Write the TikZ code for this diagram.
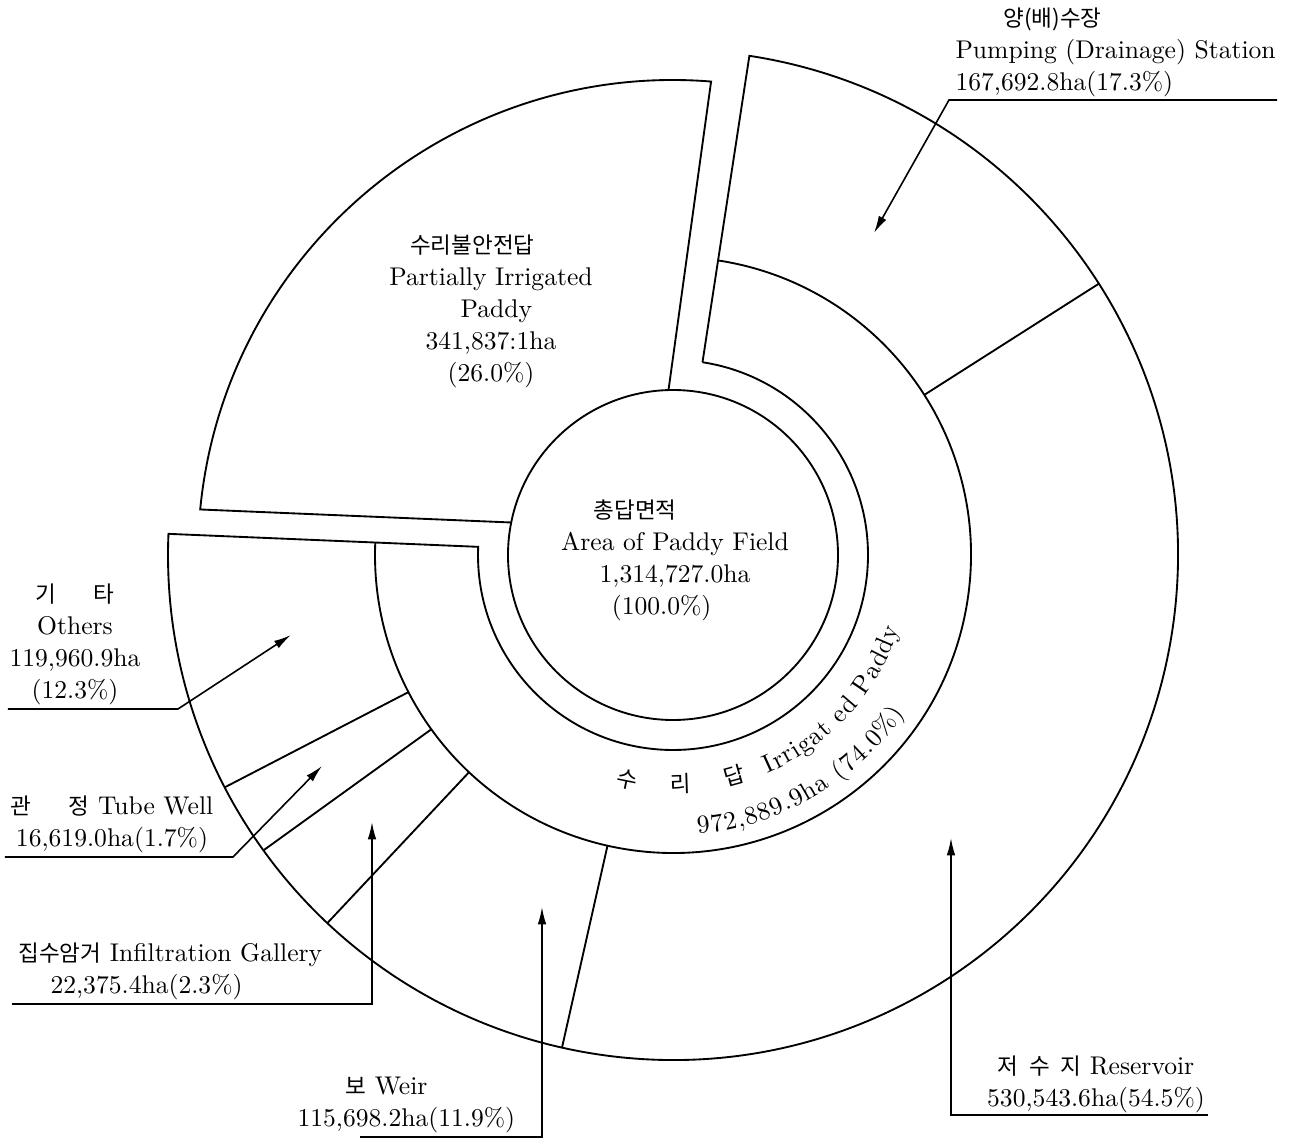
\documentclass[tikz,border=0pt]{standalone}
\usepackage{fontspec}
\newfontfamily\kr{Noto Sans CJK KR}[Scale=0.88]
\usetikzlibrary{arrows.meta,decorations.text}
\tikzset{
  >={Latex[length=6.5pt,width=3.2pt]},
  ring/.style={line width=0.7pt},
  leader/.style={draw, line width=0.6pt, ->},
  blocktext/.style={
    inner sep=0pt,
    align=center,
    font=\fontsize{9.6}{12}\selectfont
  },
  arctext/.style={decorate},
}

\begin{document}
\begin{tikzpicture}[x=0.375pt,y=0.375pt]
  \useasboundingbox (-673,-585) rectangle (620,555);
  % total area
  \draw[ring] (0,0) circle (165);
  % partially irrigated sector (cut off)
  \draw[ring] (-161.8,32.5) -- (174.5:475)
    arc[start angle=174.5, end angle=85.4, radius=475] -- (-4.5,164.9);
  % irrigated ring
  \draw[ring] (81.3:195) -- (81.3:505)
    arc[start angle=81.3, end angle=-182.4, radius=505] -- (-182.4:195)
    arc[start angle=-182.4, end angle=81.3, radius=195];
  \draw[ring] (81.3:298) arc[start angle=81.3, end angle=-182.4, radius=298];
  \foreach \a in {32.5,-102.7,-133.2,-144.2,-152.6}
    \draw[ring] (\a:298) -- (\a:505);

  % texts inside
  \node[blocktext] (tot) at (2,-5)
    {{\kr 총답면적}\hspace*{30pt}\\Area of Paddy Field\\1,314,727.0ha\hspace*{10pt}\\(100.0\%)\hspace*{10pt}};
  \node[blocktext] (part) at (-182,244)
    {{\kr 수리불안전답}\hspace*{14pt}\\Partially Irrigated\\\hspace*{4pt}Paddy\\341,837:1ha\hspace*{11pt}\\(26.0\%)};
  \foreach \ch/\a [count=\i, evaluate=\a as \r using \a+90] in {수/-101.6,리/-88,답/-74.6}
    \node[blocktext, rotate=\r] (irr\i) at (\a:229) {\kr \ch};
  \path[arctext, decoration={text along path, text align=fit to path,
      text={|\fontsize{9.6}{12}\selectfont|Irrigat ed Paddy}}]
    (-66.5:238) arc[start angle=-66.5, end angle=-18, radius=238];
  \path[arctext, decoration={text along path, text align=fit to path,
      text={|\fontsize{9.6}{12}\selectfont|972,889.9ha (74.0{\%})}}]
    (-84.9:280) arc[start angle=-84.9, end angle=-34.3, radius=280];

  % outside labels
  \node[blocktext, align=left, anchor=west] (pump) at (282,503)
    {\hspace*{18pt}{\kr 양(배)수장}\\Pumping (Drainage) Station\\167,692.8ha(17.3\%)};
  \node[blocktext] (resv) at (423,-529)
    {{\kr 저\hspace{4pt}수\hspace{4pt}지} Reservoir\\530,543.6ha(54.5\%)};
  \node[blocktext, align=left, anchor=west] (weir) at (-376,-550)
    {\hspace*{18pt}{\kr 보} Weir\\115,698.2ha(11.9\%)};
  \node[blocktext, align=left, anchor=west] (infl) at (-655,-416)
    {{\kr 집수암거} Infiltration Gallery\\\hspace*{12pt}22,375.4ha(2.3\%)};
  \node[blocktext] (tube) at (-561,-269)
    {{\kr 관\hspace{14pt}정} Tube Well\\16,619.0ha(1.7\%)};
  \node[blocktext] (oth) at (-598,-89)
    {{\kr 기\hspace{14pt}타}\\Others\\119,960.9ha\\(12.3\%)};

  % leader lines
  \coordinate (pumpR) at (604,455);
  \coordinate (pumpL) at (276,455);
  \coordinate (pumptip) at (201,322);
  \coordinate (resvR) at (535,-560);
  \coordinate (resvC) at (278,-560);
  \coordinate (resvtip) at (278,-283);
  \coordinate (weirL) at (-313,-582);
  \coordinate (weirC) at (-131,-582);
  \coordinate (weirtip) at (-131,-352);
  \coordinate (inflL) at (-661,-449);
  \coordinate (inflC) at (-301,-449);
  \coordinate (infltip) at (-301,-267);
  \coordinate (tubeL) at (-668,-302);
  \coordinate (tubeC) at (-440,-302);
  \coordinate (tubetip) at (-351,-211);
  \coordinate (othL) at (-665,-154);
  \coordinate (othC) at (-495,-154);
  \coordinate (othtip) at (-382,-80);
  \draw[leader] (pumpR) -- (pumpL) -- (pumptip);
  \draw[leader] (resvR) -- (resvC) -- (resvtip);
  \draw[leader] (weirL) -- (weirC) -- (weirtip);
  \draw[leader] (inflL) -- (inflC) -- (infltip);
  \draw[leader] (tubeL) -- (tubeC) -- (tubetip);
  \draw[leader] (othL) -- (othC) -- (othtip);
\end{tikzpicture}
\end{document}
